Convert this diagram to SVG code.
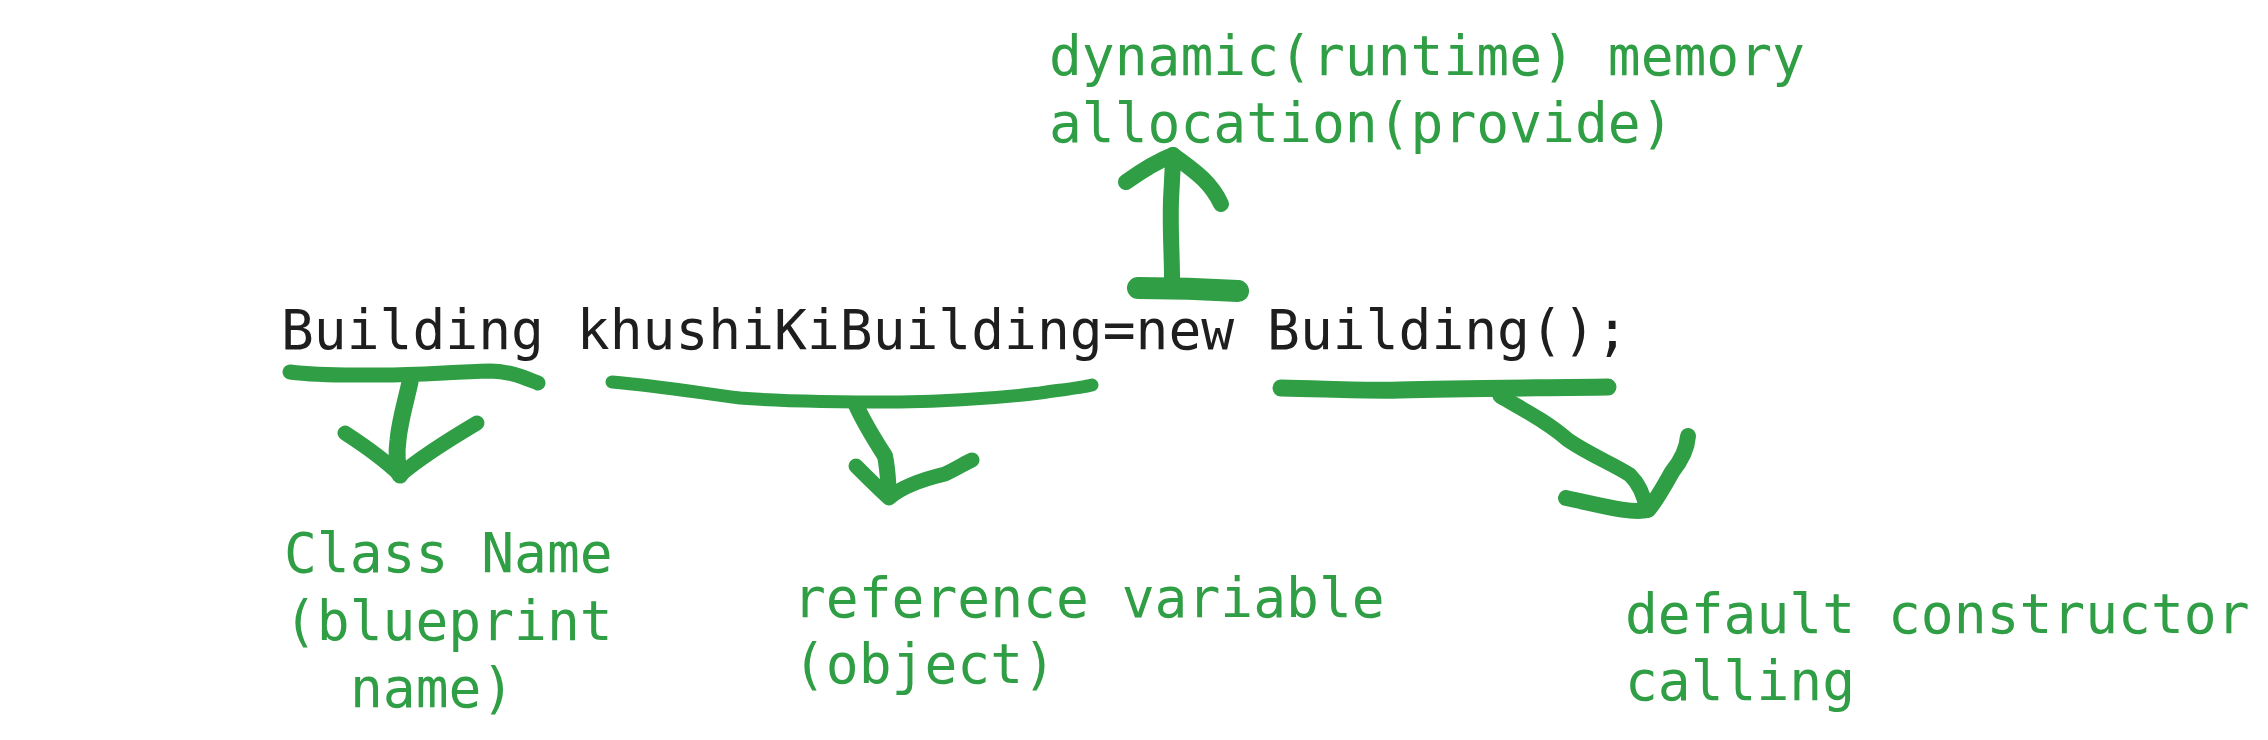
<svg xmlns="http://www.w3.org/2000/svg" width="2268" height="740" viewBox="0 0 2268 740">
<style>
.code{font-family:"DejaVu Sans Mono","Liberation Mono",monospace;font-size:54.6px;fill:#1e1e1e}
.lbl{font-family:"DejaVu Sans Mono","Liberation Mono",monospace;font-size:54.6px;fill:#2f9e44}
.ink{fill:none;stroke:#2f9e44;stroke-linecap:round;stroke-linejoin:round}
</style>
<rect width="2268" height="740" fill="#ffffff"/>
<g id="code-line"><text class="code" x="281" y="349">Building khushiKiBuilding=new Building();</text></g>
<g id="label-memory"><text class="lbl" x="1049" y="75">dynamic(runtime) memory</text><text class="lbl" x="1049" y="142">allocation(provide)</text></g>
<g id="label-class"><text class="lbl" x="284" y="572">Class Name</text><text class="lbl" x="284" y="640">(blueprint</text><text class="lbl" x="350" y="707">name)</text></g>
<g id="label-ref"><text class="lbl" x="793" y="617">reference variable</text><text class="lbl" x="793" y="683">(object)</text></g>
<g id="label-ctor"><text class="lbl" x="1625" y="633">default constructor</text><text class="lbl" x="1625" y="700">calling</text></g>
<g id="connectors">
<path class="ink" stroke-width="15" d="M290,372 C320,376 345,375 380,375 C420,375 450,372 490,371 C510,371 525,378 538,383"/>
<path class="ink" stroke-width="17" d="M410,382 C405,405 400,420 398,440 C396,455 397,465 400,475"/>
<path class="ink" stroke-width="15" d="M345,433 C365,446 385,460 400,475 C415,462 440,445 477,423"/>
<path class="ink" stroke-width="13" d="M612,382 C660,386 700,393 740,398 C790,402 850,402 900,402 C960,401 1000,398 1040,393 C1060,390 1080,388 1092,385"/>
<path class="ink" stroke-width="16" d="M856,405 C865,425 878,445 885,456 C888,470 888,482 889,495"/>
<path class="ink" stroke-width="15" d="M856,466 C868,478 878,488 889,498 C900,488 920,480 945,474 C958,468 965,463 972,460"/>
<path class="ink" stroke-width="17" d="M1281,388 C1330,389 1370,391 1400,390 C1460,388 1540,388 1608,387"/>
<path class="ink" stroke-width="15" d="M1500,396 C1520,408 1545,420 1568,440 C1590,455 1615,465 1630,475 C1640,485 1644,495 1646,508"/>
<path class="ink" stroke-width="16" d="M1688,436 C1687,450 1680,462 1672,472 C1662,490 1655,502 1648,510 C1630,514 1600,505 1566,498"/>
<path class="ink" stroke-width="16" d="M1172,278 C1172,255 1170,230 1171,200 C1172,180 1173,165 1173,155"/>
<path class="ink" stroke-width="16" d="M1126,182 C1140,172 1155,162 1173,155 C1190,168 1210,180 1221,204"/>
<path class="ink" stroke-width="22" d="M1138,288 C1170,288 1205,289 1238,291"/>
</g>
</svg>
